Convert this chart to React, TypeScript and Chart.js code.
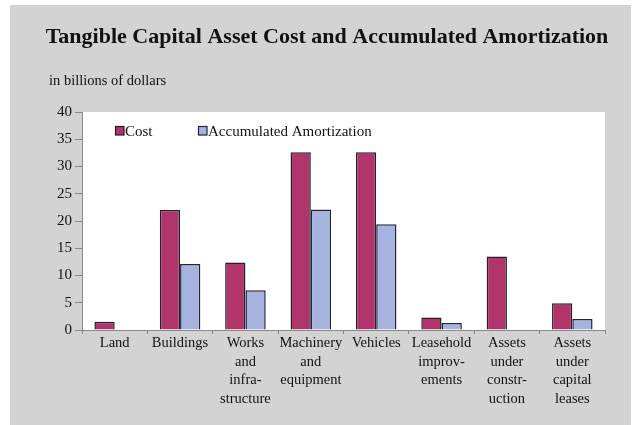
import React, { useEffect, useRef } from "react";
import { Chart, registerables } from "chart.js";

Chart.register(...registerables);

const categories: (string | string[])[] = [
  "Land",
  "Buildings",
  ["Works", "and", "infra-", "structure"],
  ["Machinery", "and", "equipment"],
  "Vehicles",
  ["Leasehold", "improv-", "ements"],
  ["Assets", "under", "constr-", "uction"],
  ["Assets", "under", "capital", "leases"],
];
const costValues: (number | null)[] = [1.5, 22.0, 12.4, 32.6, 32.6, 2.3, 13.5, 4.9];
const amortValues: (number | null)[] = [null, 12.1, 7.3, 22.1, 19.4, 1.3, null, 2.0];
const seriesLabels = ["Cost", "Accumulated Amortization"];
const yTicks = [0, 5, 10, 15, 20, 25, 30, 35, 40];

const TITLE = "Tangible Capital Asset Cost and Accumulated Amortization";
const SUBTITLE = "in billions of dollars";
const SERIF = '"Liberation Serif", "Times New Roman", serif';

const decorPlugin = {
  id: "decor",
  beforeDraw(chart: any) {
    const { ctx, chartArea, width, height } = chart;
    ctx.save();
    ctx.fillStyle = "#ffffff";
    ctx.fillRect(0, 0, width, height);
    ctx.fillStyle = "#d3d3d3";
    ctx.fillRect(10, 5, 621, 420);
    ctx.fillStyle = "#ffffff";
    ctx.fillRect(chartArea.left, chartArea.top, chartArea.right - chartArea.left, chartArea.bottom - chartArea.top);
    ctx.restore();
  },
  afterDraw(chart: any) {
    const { ctx } = chart;
    ctx.save();
    ctx.fillStyle = "#111111";
    ctx.textBaseline = "alphabetic";
    ctx.font = `bold 22px ${SERIF}`;
    ctx.textAlign = "center";
    ctx.fillText(TITLE, 327, 43);
    ctx.font = `14.5px ${SERIF}`;
    ctx.textAlign = "left";
    ctx.fillText(SUBTITLE, 49, 85);
    // legend inside plot area
    const positions = [115, 198];
    chart.data.datasets.forEach((ds: any, i: number) => {
      const x = positions[i];
      ctx.fillStyle = ds.backgroundColor;
      ctx.fillRect(x, 126, 9, 9);
      ctx.strokeStyle = ds.borderColor;
      ctx.lineWidth = 1.2;
      ctx.strokeRect(x + 0.5, 126.5, 8.5, 8.5);
      ctx.fillStyle = "#111111";
      ctx.font = `15px ${SERIF}`;
      ctx.fillText(ds.label, x + 10, 135.5);
    });
    ctx.restore();
  },
};

export default function App() {
  const ref = useRef<HTMLCanvasElement | null>(null);
  useEffect(() => {
    if (!ref.current) return;
    const chart = new Chart(ref.current, {
      type: "bar",
      data: {
        labels: categories,
        datasets: [
          {
            label: seriesLabels[0],
            data: costValues,
            backgroundColor: "#b1346b",
            borderColor: "#22202c",
            borderWidth: 1.5,
            categoryPercentage: 0.62,
            barPercentage: 1,
          },
          {
            label: seriesLabels[1],
            data: amortValues,
            backgroundColor: "#a6b3de",
            borderColor: "#22243a",
            borderWidth: 1.5,
            categoryPercentage: 0.62,
            barPercentage: 1,
          },
        ],
      },
      options: {
        animation: false,
        responsive: false,
        layout: { padding: { top: 112, right: 27, left: 0, bottom: 0 } },
        plugins: {
          legend: { display: false },
          title: { display: false },
          tooltip: { enabled: false },
        },
        scales: {
          x: {
            grid: {
              display: true,
              drawOnChartArea: false,
              drawTicks: true,
              tickLength: 4,
              color: "#8a8a8a",
              offset: true,
            },
            border: { display: true, color: "#8a8a8a", width: 1 },
            ticks: {
              color: "#111111",
              font: { family: SERIF, size: 14.5, lineHeight: 1.28 },
              padding: 0,
              maxRotation: 0,
              autoSkip: false,
            },
            afterFit(scale: any) {
              scale.height = 95;
            },
          },
          y: {
            min: 0,
            max: 40,
            afterBuildTicks(scale: any) {
              scale.ticks = yTicks.map((v) => ({ value: v }));
            },
            grid: {
              display: true,
              drawOnChartArea: false,
              drawTicks: true,
              tickLength: 7,
              color: "#8a8a8a",
            },
            border: { display: true, color: "#8a8a8a", width: 1 },
            ticks: {
              color: "#111111",
              font: { family: SERIF, size: 15 },
              padding: 3,
            },
            afterFit(scale: any) {
              scale.width = 82;
            },
          },
        },
      },
      plugins: [decorPlugin],
    });
    return () => chart.destroy();
  }, []);
  return (
    <div style={{ position: "absolute", left: 0, top: 0, width: 632, height: 425 }}>
      <canvas ref={ref} width={632} height={425} style={{ width: 632, height: 425, display: "block" }} />
    </div>
  );
}
